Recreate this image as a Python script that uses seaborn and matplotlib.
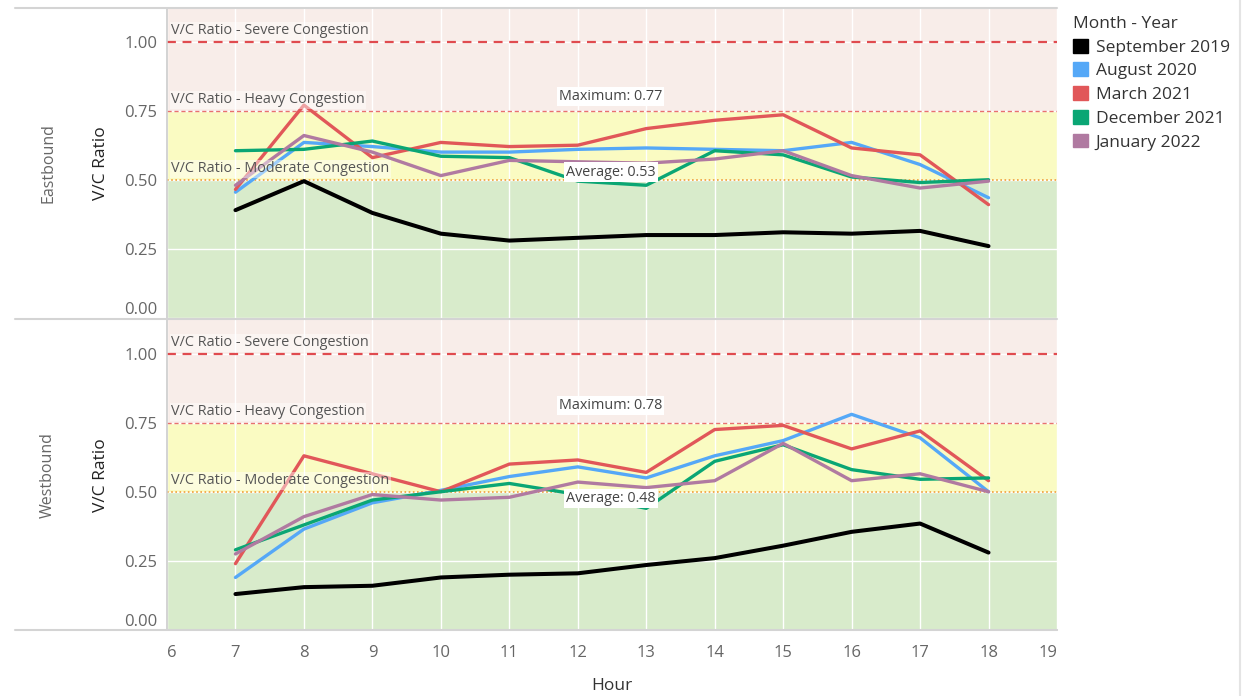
import numpy as np
import pandas as pd
import matplotlib
matplotlib.use("Agg")
import matplotlib.pyplot as plt
import matplotlib.patches as mpatches
import matplotlib.lines as mlines
import seaborn as sns

sns.set_style("white")
plt.rcParams['font.family'] = ['Open Sans', 'DejaVu Sans']

hours = list(range(7, 19))
months = ['September 2019', 'August 2020', 'March 2021', 'December 2021', 'January 2022']
colors = ['#000000', '#55a8f7', '#e15759', '#0aa674', '#b07aa1']

# Eastbound V/C ratio by hour
east_sep19 = [0.39, 0.495, 0.38, 0.305, 0.28, 0.29, 0.30, 0.30, 0.31, 0.305, 0.315, 0.26]
east_aug20 = [0.455, 0.635, 0.62, 0.60, 0.60, 0.61, 0.615, 0.61, 0.605, 0.635, 0.555, 0.435]
east_mar21 = [0.465, 0.77, 0.58, 0.635, 0.62, 0.625, 0.685, 0.715, 0.735, 0.615, 0.59, 0.41]
east_dec21 = [0.605, 0.61, 0.64, 0.585, 0.58, 0.495, 0.48, 0.605, 0.59, 0.51, 0.49, 0.50]
east_jan22 = [0.48, 0.66, 0.60, 0.515, 0.57, 0.565, 0.56, 0.575, 0.605, 0.515, 0.47, 0.495]

# Westbound V/C ratio by hour
west_sep19 = [0.13, 0.155, 0.16, 0.19, 0.20, 0.205, 0.235, 0.26, 0.305, 0.355, 0.385, 0.28]
west_aug20 = [0.19, 0.365, 0.46, 0.505, 0.555, 0.59, 0.55, 0.63, 0.685, 0.78, 0.695, 0.50]
west_mar21 = [0.24, 0.63, 0.565, 0.50, 0.60, 0.615, 0.57, 0.725, 0.74, 0.655, 0.72, 0.54]
west_dec21 = [0.29, 0.38, 0.47, 0.50, 0.53, 0.49, 0.44, 0.61, 0.67, 0.58, 0.545, 0.55]
west_jan22 = [0.275, 0.41, 0.49, 0.47, 0.48, 0.535, 0.515, 0.54, 0.675, 0.54, 0.565, 0.50]

directions = ['Eastbound', 'Westbound']
series = {
    'Eastbound': [east_sep19, east_aug20, east_mar21, east_dec21, east_jan22],
    'Westbound': [west_sep19, west_aug20, west_mar21, west_dec21, west_jan22],
}

rows = []
for d in directions:
    for m, vals in zip(months, series[d]):
        for h, v in zip(hours, vals):
            rows.append({'Direction': d, 'Month': m, 'Hour': h, 'VC': v})
df = pd.DataFrame(rows)

refs = [(1.00, 'V/C Ratio - Severe Congestion'),
        (0.75, 'V/C Ratio - Heavy Congestion'),
        (0.50, 'V/C Ratio - Moderate Congestion')]

W, H = 1244, 696
fig = plt.figure(figsize=(W / 100, H / 100), dpi=100)
left, right = 167 / W, 1057 / W
panels = [(8, 318), (320, 630)]
ytop = 310 / 276.5

axes = []
for (t, b) in panels:
    ax = fig.add_axes([left, 1 - b / H, right - left, (b - t) / H])
    axes.append(ax)

for i, (ax, d) in enumerate(zip(axes, directions)):
    sub = df[df['Direction'] == d]
    ax.axhspan(0, 0.5, color='#d8ebcb', zorder=0.2, lw=0)
    ax.axhspan(0.5, 0.75, color='#fafbc2', zorder=0.2, lw=0)
    ax.axhspan(0.75, ytop, color='#f8ede9', zorder=0.2, lw=0)

    sns.lineplot(data=sub, x='Hour', y='VC', hue='Month', hue_order=months,
                 palette=colors, linewidth=2.4, legend=False, ax=ax, zorder=3)
    for ln in ax.lines:
        if ln.get_color() in ('#000000', 'black', (0.0, 0.0, 0.0)):
            ln.set_linewidth(2.9)

    ax.axhline(1.0, color='#e04b4f', ls=(0, (4, 3)), lw=1.6, zorder=1.5)
    ax.axhline(0.75, color='#e8716f', ls=(0, (3, 2)), lw=1.0, zorder=1.5)
    ax.axhline(0.50, color='#f0a035', ls=(0, (1, 1.5)), lw=1.2, zorder=1.5)

    for val, txt in refs:
        ax.text(6.06, val + 0.012, txt, fontsize=10.4, color='#555555', va='bottom', ha='left',
                zorder=4, bbox=dict(boxstyle='square,pad=0.1', fc='white', ec='none', alpha=0.45))

    vmax = sub['VC'].max()
    vavg = sub['VC'].mean()
    ax.text(12.48, vmax + 0.005, f'Maximum: {vmax:.2f}', fontsize=10.4, color='#444444',
            ha='center', va='bottom', zorder=5,
            bbox=dict(boxstyle='square,pad=0.15', fc='white', ec='none'))
    ax.text(12.48, vavg, f'Average: {vavg:.2f}', fontsize=10.4, color='#444444',
            ha='center', va='center', zorder=5,
            bbox=dict(boxstyle='square,pad=0.15', fc='white', ec='none'))

    ax.set_xlim(6, 19)
    ax.set_ylim(0, ytop)
    ax.set_xticks(range(6, 20))
    ax.set_yticks([0, 0.25, 0.5, 0.75, 1.0])
    ax.set_yticklabels(['0.00', '0.25', '0.50', '0.75', '1.00'])
    ax.yaxis.get_ticklabels()[0].set_va('bottom')
    ax.set_axisbelow(True)
    ax.grid(True, color='white', lw=1.0)
    ax.tick_params(axis='y', length=4, color='#e0e0e0', labelsize=12, labelcolor='#666666', pad=3)
    ax.set_ylabel('V/C Ratio', fontsize=12.5, color='#222222', labelpad=11)
    for s in ['top', 'right', 'bottom']:
        ax.spines[s].set_visible(False)
    ax.spines['left'].set_color('#cccccc')
    ax.spines['left'].set_linewidth(1.2)
    if i == 0:
        ax.tick_params(axis='x', length=0, labelbottom=False)
        ax.set_xlabel('')
    else:
        ax.tick_params(axis='x', length=5, color='#d8d8d8', labelsize=12, labelcolor='#666666', pad=6)
        ax.set_xlabel('Hour', fontsize=12.5, color='#333333', labelpad=12)
        ax.spines['bottom'].set_visible(True)
        ax.spines['bottom'].set_color('#cccccc')
        ax.spines['bottom'].set_linewidth(1.2)
        xl = ax.get_xticklabels()
        xl[0].set_ha('left')
        xl[-1].set_ha('right')

    fig.text(48 / W, 1 - ((panels[i][0] + panels[i][1]) / 2) / H, d, rotation=90,
             fontsize=11.5, color='#666666', ha='center', va='center')

for y in [8, 319, 630]:
    fig.add_artist(mlines.Line2D([15 / W, right], [1 - y / H, 1 - y / H],
                                 transform=fig.transFigure, color='#d4d4d4', lw=1.5))
fig.add_artist(mlines.Line2D([1240 / W, 1240 / W], [0, 1], transform=fig.transFigure,
                             color='#e4e4e4', lw=1.5))

handles = [mpatches.Patch(color=c, label=m) for m, c in zip(months, colors)]
leg = fig.legend(handles=handles, loc='upper left', bbox_to_anchor=(1073 / W, 1 - 16 / H),
                 frameon=False, fontsize=12.5, title='Month - Year', title_fontsize=12.5,
                 handlelength=0.85, handleheight=0.85, handletextpad=0.45, labelspacing=0.39,
                 alignment='left', borderaxespad=0, borderpad=0)
for t in leg.get_texts():
    t.set_color('#333333')
leg.get_title().set_color('#333333')

fig.savefig('out.png', dpi=100)
